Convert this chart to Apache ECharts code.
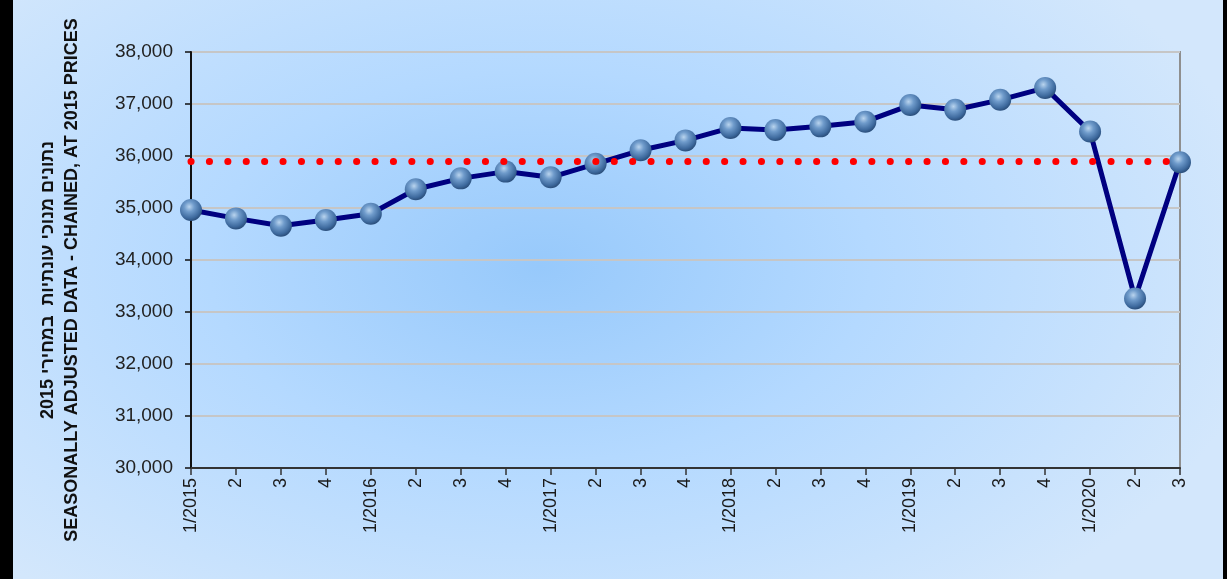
<!DOCTYPE html>
<html>
<head>
<meta charset="utf-8">
<script src="https://cdn.jsdelivr.net/npm/echarts@6/dist/echarts.min.js"></script>
<style>
  html, body { margin: 0; padding: 0; }
  #wrap {
    position: relative;
    width: 1227px;
    height: 579px;
    background: radial-gradient(ellipse 60% 75% at 44% 46%, #97c9fb 0%, #b4d9ff 45%, #d3e7fc 100%);
  }
  #leftBar { position: absolute; left: 0; top: 0; width: 13px; height: 579px; background: #000; }
  #rightBar { position: absolute; right: 0; top: 0; width: 4px; height: 579px; background: #000; }
  #chart { position: absolute; left: 0; top: 0; width: 1227px; height: 579px; }
</style>
</head>
<body>
<div id="wrap">
  <div id="chart"></div>
  <div id="leftBar"></div>
  <div id="rightBar"></div>
</div>
<script>
// quarters 1/2015 .. 3/2020
const quarters = [
  "1/2015", "2", "3", "4",
  "1/2016", "2", "3", "4",
  "1/2017", "2", "3", "4",
  "1/2018", "2", "3", "4",
  "1/2019", "2", "3", "4",
  "1/2020", "2", "3"
];
const values = [
  34960, 34800, 34660, 34770,
  34890, 35360, 35570, 35700,
  35590, 35850, 36110, 36300,
  36540, 36500, 36570, 36660,
  36980, 36890, 37080, 37310,
  36470, 33260, 35880
];
const refValue = 35890;
const yTicks = { min: 30000, max: 38000, step: 1000 };

const yName = [
  "2015 נתונים מנוכי עונתיות  במחירי",
  "SEASONALLY ADJUSTED DATA - CHAINED, AT 2015 PRICES"
];

const chart = echarts.init(document.getElementById("chart"));

const ball = {
  type: "radial",
  x: 0.42,
  y: 0.35,
  r: 0.65,
  colorStops: [
    { offset: 0, color: "#b9d4ee" },
    { offset: 0.35, color: "#6f9bcb" },
    { offset: 0.8, color: "#3e6a9e" },
    { offset: 1, color: "#2b4f7c" }
  ]
};

chart.setOption({
  backgroundColor: "transparent",
  animation: false,
  grid: {
    left: 191,
    right: 47,
    top: 52,
    bottom: 111,
    show: true,
    borderColor: "#8f8f8f",
    borderWidth: 2,
    backgroundColor: "transparent"
  },
  xAxis: {
    type: "category",
    data: quarters,
    boundaryGap: false,
    axisLine: { lineStyle: { color: "#333", width: 2 } },
    axisTick: { show: true, interval: 0, length: 7, lineStyle: { color: "#333", width: 1.5 } },
    axisLabel: {
      interval: 0,
      rotate: 90,
      margin: 10,
      color: "#1a1a1a",
      fontSize: 18,
      fontFamily: "Liberation Sans, Arial, sans-serif"
    },
    splitLine: { show: false }
  },
  yAxis: {
    type: "value",
    min: yTicks.min,
    max: yTicks.max,
    interval: yTicks.step,
    axisLine: { show: true, lineStyle: { color: "#111", width: 2 } },
    axisTick: { show: true, length: 6, lineStyle: { color: "#111", width: 1.5 } },
    axisLabel: {
      margin: 18,
      color: "#222",
      fontSize: 19,
      fontFamily: "Liberation Sans, Arial, sans-serif",
      formatter: v => v.toLocaleString("en-US")
    },
    splitLine: { lineStyle: { color: "#c6c6c6", width: 2 } }
  },
  graphic: [
    {
      type: "text",
      x: 60,
      y: 280,
      rotation: Math.PI / 2,
      style: {
        text: yName.join("\n"),
        font: 'bold 18px "Liberation Sans", Arial, sans-serif',
        fill: "#111",
        align: "center",
        verticalAlign: "middle",
        lineHeight: 24
      }
    }
  ],
  series: [
    {
      type: "line",
      data: values,
      symbol: "circle",
      symbolSize: 22,
      showSymbol: true,
      lineStyle: { color: "#000080", width: 5 },
      itemStyle: { color: ball, borderWidth: 0 },
      z: 3,
      markLine: {
        silent: true,
        symbol: "none",
        z: 10,
        label: { show: false },
        lineStyle: { color: "#ff0000", width: 7, type: [0.1, 18.3], cap: "round", opacity: 1 },
        data: [{ yAxis: refValue }]
      }
    }
  ]
});
</script>
</body>
</html>
